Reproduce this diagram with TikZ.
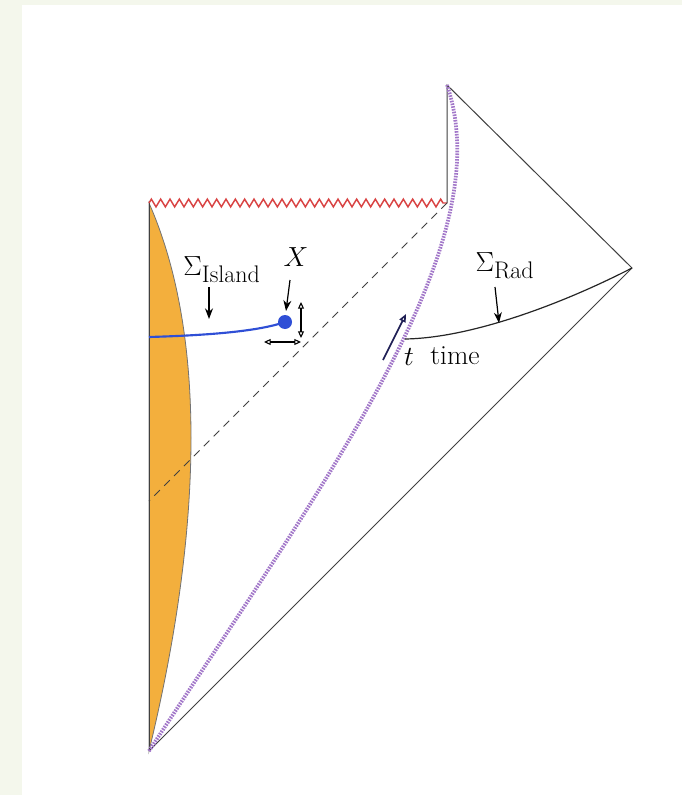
\documentclass[tikz,border=0pt]{standalone}
\usetikzlibrary{arrows.meta,decorations.pathmorphing}
\definecolor{islandorange}{HTML}{F3AF3D}
\definecolor{islandblue}{HTML}{2F4FD6}
\definecolor{singred}{HTML}{D94444}
\definecolor{horizonpurple}{HTML}{A277C9}
\definecolor{framegreen}{HTML}{F4F7EC}
\definecolor{timenavy}{HTML}{1F1F55}
\newcommand{\subtxt}[1]{\mbox{\fontsize{18}{20}\selectfont #1}}
\begin{document}
\begin{tikzpicture}[x=0.75pt,y=-0.75pt,
  edge/.style={draw=black!75,line width=0.75pt},
  lbl/.style={font=\huge,inner sep=0pt},
  pointer/.style={-{Stealth[length=8pt,width=6pt]},line width=0.9pt},
  openarr/.style={{Triangle[open,length=5pt,width=4.5pt]}-{Triangle[open,length=5pt,width=4.5pt]},line width=0.8pt}]
\useasboundingbox (0,0) rectangle (682,795);
\fill[framegreen] (0,0) rectangle (682,795);
\fill[white] (22,5) rectangle (682,795);
% corners of the diagram
\coordinate (B) at (149,751);
\coordinate (S) at (149,203);
\coordinate (H) at (447,203);
\coordinate (T) at (447,85);
\coordinate (R) at (632,268);
\coordinate (D) at (149,501);
% island region
\fill[islandorange,draw=black!55,line width=0.6pt] (S) .. controls (205,330) and (205,520) .. (B) -- cycle;
\draw[edge] (B) -- (S);
\draw[edge] (H) -- (T) -- (R) -- (B);
\draw[singred,line width=1.1pt,decorate,decoration={zigzag,segment length=7pt,amplitude=2.9pt}] (S) -- (H);
\draw[black!75,dash pattern=on 6pt off 4.5pt,line width=0.7pt] (H) -- (D);
\draw[horizonpurple,line width=2.8pt,dash pattern=on 1.2pt off 0.9pt] (B) .. controls (340,460) and (500,240) .. (T);
% slices
\node[circle,fill=islandblue,inner sep=0pt,minimum size=10.5pt] (X) at (285,322) {};
\draw[islandblue,line width=1.6pt] (149,337) .. controls (220,335) and (262,330) .. (X.center);
\coordinate (radStart) at (405,339);
\draw[black!85,line width=0.9pt] (radStart) .. controls (470,338) and (560,305) .. (R);
% labels
\node[lbl] (sigI) at (222,270) {$\Sigma_{\subtxt{Island}}$};
\node[lbl] (xlab) at (296,257) {$X$};
\node[lbl] (sigR) at (505,266) {$\Sigma_{\subtxt{Rad}}$};
\node[lbl] (tlab) at (409,357) {$t$};
\node[lbl] (timelab) at (455,356) {time};
\coordinate (islTail) at (209,287);
\coordinate (islHead) at (209,319);
\coordinate (xTail) at (290,280);
\coordinate (xHead) at (286,311);
\coordinate (radTail) at (495,287);
\coordinate (radHead) at (499,323);
\draw[pointer] (islTail) -- (islHead);
\draw[pointer] (xTail) -- (xHead);
\draw[pointer] (radTail) -- (radHead);
% small moves of X
\coordinate (vTop) at (301,302);
\coordinate (vBot) at (301,338);
\coordinate (hLeft) at (264,342);
\coordinate (hRight) at (301,342);
\draw[openarr] (vTop) -- (vBot);
\draw[openarr] (hLeft) -- (hRight);
% time arrow
\coordinate (tTail) at (383,360);
\coordinate (tHead) at (406,314);
\draw[timenavy,line width=1.2pt,-{Triangle[open,length=6pt,width=5pt]}] (tTail) -- (tHead);
\end{tikzpicture}
\end{document}
